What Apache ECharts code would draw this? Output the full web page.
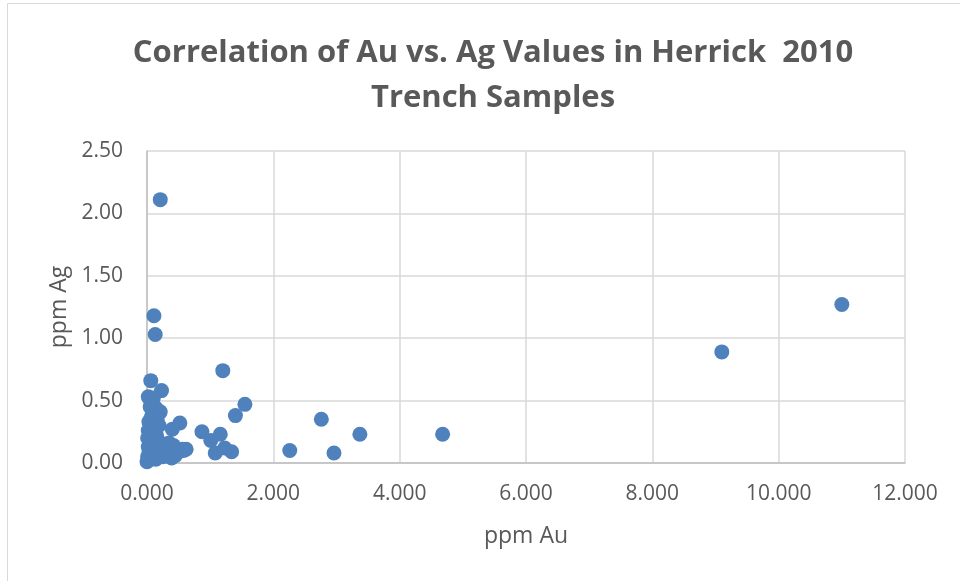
<!DOCTYPE html>
<html>
<head>
<meta charset="utf-8">
<title>Correlation of Au vs. Ag</title>
<script src="https://cdn.jsdelivr.net/npm/echarts@6/dist/echarts.min.js"></script>
<style>
    html, body { margin: 0; padding: 0; background: #ffffff; }
    #center { width: 960px; height: 581px; }
</style>
</head>
<body>
<div id="center"></div>
<script>
// ppm Au / ppm Ag per sample
var au = [0.21, 0.11, 0.13, 1.20, 1.55, 1.40, 0.52, 0.40, 0.87, 1.16, 1.01, 0.56, 1.08, 1.23, 1.34,
    2.26, 2.76, 2.96, 3.37, 4.68, 9.10, 11.00,
    0.06, 0.23, 0.02, 0.10, 0.05, 0.14, 0.21, 0.03, 0.09, 0.19, 0.02, 0.08, 0.15, 0.01, 0.05,
    0.12, 0.22, 0.30, 0.42, 0.02, 0.08, 0.17, 0.27, 0.36, 0.50, 0.03, 0.11, 0.20, 0.33, 0.45,
    0.01, 0.06, 0.14, 0.25, 0.39, 0.02, 0.00, 0.09, 0.18, 0.28, 0.35, 0.58, 0.04, 0.12, 0.07,
    0.16, 0.62];
var ag = [2.11, 1.18, 1.03, 0.74, 0.47, 0.38, 0.32, 0.27, 0.25, 0.23, 0.18, 0.11, 0.08, 0.12, 0.09,
    0.10, 0.35, 0.08, 0.23, 0.23, 0.89, 1.27,
    0.66, 0.58, 0.53, 0.52, 0.45, 0.44, 0.41, 0.33, 0.31, 0.30, 0.26, 0.24, 0.22, 0.20, 0.18,
    0.17, 0.16, 0.15, 0.14, 0.13, 0.12, 0.11, 0.10, 0.12, 0.09, 0.08, 0.07, 0.06, 0.07, 0.06,
    0.05, 0.04, 0.03, 0.05, 0.04, 0.02, 0.01, 0.09, 0.08, 0.13, 0.16, 0.10, 0.15, 0.26, 0.37,
    0.35, 0.11];

var titleLines = ['Correlation of Au vs. Ag Values in Herrick  2010', 'Trench Samples'];

var points = [];
for (var i = 0; i < au.length; i++) {
    points.push([au[i], ag[i]]);
}

var grey = '#595959';
var labelFont = '"Open Sans", "Liberation Sans", sans-serif';

var myChart = echarts.init(document.getElementById('center'));
var option = {
    backgroundColor: '#ffffff',
    animation: false,
    title: {
        text: titleLines.join('\n'),
        left: 488,
        top: 26,
        textAlign: 'center',
        textStyle: {
            color: grey,
            fontFamily: labelFont,
            fontWeight: 'bold',
            fontSize: 31,
            lineHeight: 45
        }
    },
    graphic: [{
        type: 'rect',
        shape: { x: 7.5, y: 3.5, width: 1000, height: 1000 },
        style: { fill: 'none', stroke: '#d9d9d9', lineWidth: 1 },
        silent: true
    }],
    grid: {
        left: 147,
        right: 55,
        top: 151,
        bottom: 118
    },
    xAxis: {
        type: 'value',
        min: 0,
        max: 12,
        interval: 2,
        name: 'ppm Au',
        nameLocation: 'middle',
        nameGap: 62,
        nameTextStyle: { color: grey, fontFamily: labelFont, fontSize: 23 },
        axisLine: { show: true, lineStyle: { color: '#bfbfbf', width: 1.5 } },
        axisTick: { show: false },
        axisLabel: {
            margin: 21,
            color: grey,
            fontFamily: labelFont,
            fontSize: 21,
            formatter: function (v) { return v.toFixed(3); }
        },
        splitLine: { show: true, lineStyle: { color: '#d9d9d9', width: 1.5 } }
    },
    yAxis: {
        type: 'value',
        min: 0,
        max: 2.5,
        interval: 0.5,
        name: 'ppm Ag',
        nameLocation: 'middle',
        nameGap: 76,
        nameRotate: 90,
        nameTextStyle: { color: grey, fontFamily: labelFont, fontSize: 23 },
        axisLine: { show: true, lineStyle: { color: '#bfbfbf', width: 1.5 } },
        axisTick: { show: false },
        axisLabel: {
            margin: 24,
            color: grey,
            fontFamily: labelFont,
            fontSize: 21,
            formatter: function (v) { return v.toFixed(2); }
        },
        splitLine: { show: true, lineStyle: { color: '#d9d9d9', width: 1.5 } }
    },
    series: [{
        name: 'ppm Ag',
        type: 'scatter',
        symbol: 'circle',
        symbolSize: 15,
        itemStyle: { color: '#4f81bd', opacity: 1 },
        data: points
    }]
};
myChart.setOption(option);
</script>
</body>
</html>
